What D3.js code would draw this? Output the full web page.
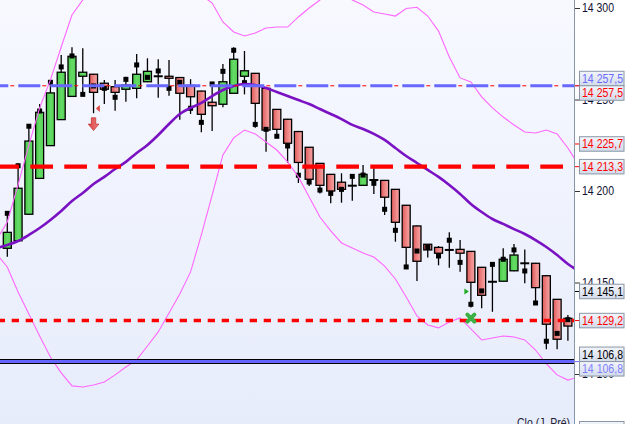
<!DOCTYPE html>
<html><head><meta charset="utf-8">
<script src="https://cdn.jsdelivr.net/npm/d3@7"></script>
<style>html,body{margin:0;padding:0;background:#fff;overflow:hidden}svg{display:block}
text{font-family:"Liberation Sans",Arial,Helvetica,sans-serif;}</style>
</head><body><svg id="c" width="626" height="424"></svg>
<script>
// ---- DATA ----
const opens  = [14168.7,14172.8,14187.3,14206.9,14224.8,14239.0,14251.7,14262.7,14263.8,14258.9,14257.0,14255.6,14256.1,14259.7,14262.7,14262.7,14262.0,14257.7,14254.6,14248.5,14247.4,14253.4,14262.7,14264.3,14256.1,14244.6,14239.2,14232.5,14223.9,14215.1,14209.1,14204.8,14202.9,14203.1,14206.0,14205.8,14200.9,14192.2,14180.9,14170.9,14169.2,14167.8,14168.1,14167.0,14158.3,14150.4,14150.7,14156.4,14160.5,14160.5,14153.7,14140.8,14130.4];
const highs  = [14188.7,14215.1,14236.6,14247.5,14260.7,14274.3,14278.5,14278.0,14264.0,14260.7,14260.7,14262.5,14274.9,14272.5,14272.0,14271.6,14262.2,14261.1,14254.8,14259.2,14269.4,14278.5,14276.5,14264.5,14256.3,14244.8,14239.4,14232.7,14224.1,14215.3,14209.3,14209.7,14208.0,14214.2,14212.4,14206.0,14201.1,14192.4,14181.1,14171.1,14169.9,14177.4,14173.2,14167.2,14158.5,14161.0,14168.7,14171.0,14168.1,14160.7,14153.9,14141.0,14132.2];
const lows   = [14164.1,14172.5,14187.0,14206.7,14224.6,14238.8,14251.5,14252.8,14242.5,14247.5,14243.9,14248.8,14250.7,14259.5,14251.0,14252.1,14239.0,14242.1,14232.1,14232.8,14245.7,14253.2,14252.8,14234.6,14221.5,14229.9,14215.3,14204.4,14202.7,14198.7,14193.3,14193.6,14194.7,14202.9,14198.4,14186.9,14172.3,14157.9,14150.8,14163.6,14159.4,14158.1,14155.9,14136.4,14135.9,14134.0,14150.5,14156.2,14149.6,14138.8,14113.5,14113.5,14118.2];
const closes = [14177.4,14201.5,14227.3,14243.0,14253.6,14264.9,14273.6,14264.9,14253.9,14255.6,14253.9,14257.9,14263.8,14265.4,14262.7,14261.6,14253.4,14251.5,14241.9,14246.6,14259.7,14272.0,14265.7,14247.9,14233.3,14233.7,14226.1,14215.6,14206.4,14203.1,14200.0,14200.9,14202.9,14209.1,14206.0,14196.6,14182.9,14169.2,14161.6,14167.8,14166.0,14167.8,14166.0,14150.1,14143.0,14150.4,14162.7,14165.0,14160.5,14147.2,14127.2,14119.0,14126.2];
const marks  = [14187.8,14213.8,14235.4,14243.7,14259.4,14267.8,14273.8,14252.8,14257.4,14256.1,14251.2,14261.0,14268.9,14262.1,14265.6,14256.1,14259.4,14245.2,14237.5,14258.5,14265.4,14276.9,14259.2,14236.4,14233.7,14229.9,14224.6,14208.6,14204.9,14200.5,14198.7,14200.9,14208.0,14208.7,14204.2,14190.0,14178.5,14158.5,14167.2,14169.2,14164.5,14173.1,14161.0,14138.1,14145.4,14159.9,14162.7,14167.8,14156.3,14138.8,14117.9,14122.2,14129.7];
// indicator values from bar -1 to bar 53
const maValues = [14168.9,14170.5,14172.7,14176.0,14179.8,14184.2,14189.1,14194.5,14198.9,14203.8,14207.7,14212.0,14215.9,14220.8,14225.1,14230.6,14236.6,14242.1,14245.4,14248.1,14251.9,14255.2,14257.4,14258.5,14257.9,14256.3,14254.1,14251.9,14249.7,14247.5,14244.8,14242.1,14239.3,14236.1,14233.9,14231.2,14227.9,14223.5,14219.1,14215.3,14211.5,14207.7,14203.3,14198.4,14192.9,14188.5,14184.7,14182.0,14179.2,14176.5,14173.2,14169.4,14165.0,14160.1,14156.3];
const upperBand = [14173.2,14183.1,14203.3,14225.1,14245.4,14260.7,14278.7,14296.2,14304.4,14312.6,14318.0,14320.8,14322.4,14323.5,14323.5,14322.4,14320.8,14318.0,14312.6,14307.1,14302.7,14292.4,14286.9,14284.7,14286.3,14289.1,14289.6,14289.6,14295.1,14300.0,14304.4,14308.7,14308.7,14304.4,14301.6,14297.8,14296.7,14295.6,14299.7,14300.4,14295.6,14287.4,14273.2,14261.8,14259.6,14251.4,14245.4,14240.4,14236.1,14232.2,14231.7,14233.3,14231.2,14223.5,14214.2];
const lowerBand = [14165.6,14158.5,14144.8,14132.8,14120.8,14109.3,14100.6,14093.5,14092.9,14094.0,14095.6,14099.5,14103.8,14107.7,14115.3,14123.0,14133.3,14143.7,14155.8,14176.0,14197.8,14219.7,14229.0,14233.3,14231.2,14226.8,14222.4,14215.9,14207.7,14196.7,14185.8,14178.2,14171.6,14168.9,14166.1,14163.9,14159.0,14151.9,14142.1,14131.7,14126.8,14125.2,14128.4,14130.6,14124.6,14118.6,14119.7,14120.8,14120.2,14118.6,14113.1,14105.5,14099.5,14096.7,14098.4];
const tickValues = [14100,14150,14200,14250,14300];
const levelValues = [14257.5,14257.5,14213.3,14129.2,14106.8];
const labelValues = [14257.5,14257.5,14225.7,14213.3,14145.1,14129.2,14106.8,14106.8];
const labelTexts  = ["14 257,5","14 257,5","14 225,7","14 213,3","14 145,1","14 129,2","14 106,8","14 106,8"];
const signalBars  = [8,8,43,43];
const signalPrices= [14240.0,14245.1,14145.1,14130.5];
const signalKinds = ["arrowDown","triLeft","triRight","cross"];
const footerText = "Clo (J. Pré)";

// ---- CHART ----
const W=626,H=424,PW=574;
const FONT='"Liberation Sans",Arial,Helvetica,sans-serif';
const svg=d3.select('#c');
const defs=svg.append('defs');
function lg(id,x2,y2,stops){const g=defs.append('linearGradient').attr('id',id).attr('x1',0).attr('y1',0).attr('x2',x2).attr('y2',y2);
  stops.forEach(s=>g.append('stop').attr('offset',s[0]).attr('stop-color',s[1]));}
lg('bg',0,1,[[0,'#f7f9ff'],[1,'#e7ecfb']]);
lg('gUp',1,0,[[0,'#45c845'],[0.5,'#66db66'],[1,'#55d055']]);
lg('gDn',1,0,[[0,'#e05a5a'],[0.6,'#f08c8c'],[1,'#f4a4a4']]);
lg('lbl',0,1,[[0,'#f3f5fb'],[1,'#d3dbea']]);
lg('arr',1,0,[[0,'#d84040'],[1,'#f08080']]);
defs.append('clipPath').attr('id','clip').append('rect').attr('x',0).attr('y',0).attr('width',PW).attr('height',H);

const x=d3.scaleLinear().domain([0,52]).range([7.3,567.9]);
const y=d3.scaleLinear().domain([14200,14300]).range([191,8]);

svg.append('rect').attr('width',W).attr('height',H).attr('fill','#fff');
svg.append('rect').attr('width',PW).attr('height',H).attr('fill','url(#bg)');

const plot=svg.append('g').attr('clip-path','url(#clip)');
const idx=d3.range(opens.length);

plot.append('g').selectAll('line').data(idx).join('line')
  .attr('x1',i=>x(i)).attr('x2',i=>x(i)).attr('y1',i=>y(highs[i])).attr('y2',i=>y(lows[i]))
  .attr('stroke','#000').attr('stroke-width',1.3);
plot.append('g').selectAll('rect').data(idx.filter(i=>opens[i]!==closes[i])).join('rect')
  .attr('x',i=>x(i)-4).attr('width',8)
  .attr('y',i=>y(Math.max(opens[i],closes[i])))
  .attr('height',i=>Math.abs(y(opens[i])-y(closes[i])))
  .attr('fill',i=>closes[i]>opens[i]?'url(#gUp)':'url(#gDn)')
  .attr('stroke','#000').attr('stroke-width',1.3);
plot.append('g').selectAll('line').data(idx.filter(i=>opens[i]===closes[i])).join('line')
  .attr('x1',i=>x(i)-4.5).attr('x2',i=>x(i)+4.5).attr('y1',i=>y(opens[i])).attr('y2',i=>y(opens[i]))
  .attr('stroke','#000').attr('stroke-width',2);
plot.append('g').selectAll('rect').data(idx).join('rect')
  .attr('x',i=>x(i)-2.5).attr('y',i=>y(marks[i])-2.5).attr('width',5).attr('height',5).attr('fill','#000');

const ind=d3.line().x((d,k)=>x(k-1)).y(d=>y(d));
plot.append('path').attr('d',ind(upperBand)).attr('fill','none').attr('stroke','#ff66ff').attr('stroke-width',1.1);
plot.append('path').attr('d',ind(lowerBand)).attr('fill','none').attr('stroke','#ff66ff').attr('stroke-width',1.1);
plot.append('path').attr('d',d3.line().x((d,k)=>x(k-1)).y(d=>y(d)).curve(d3.curveMonotoneX)(maValues))
  .attr('fill','none').attr('stroke','#7a12c4').attr('stroke-width',2.6);

function hline(v,color,w,dash,off){
  const l=plot.append('line').attr('x1',0).attr('x2',PW).attr('y1',y(v)).attr('y2',y(v))
    .attr('stroke',color).attr('stroke-width',w);
  if(dash) l.attr('stroke-dasharray',dash).attr('stroke-dashoffset',off);
  return l;
}
hline(levelValues[1],'#ff0000',1,'4,28',21.7);
hline(levelValues[0],'#6868ff',3,'22,10',13.7);
hline(levelValues[2],'#ff0000',4.3,'22.7,11.3',3.7);
hline(levelValues[3],'#ff0000',3.4,'7.3,6.7',2.3);
hline(levelValues[4],'#000',5);
hline(levelValues[4],'#6464ff',3);

const sg=plot.append('g');
signalKinds.forEach((k,j)=>{
  const cx=x(signalBars[j]), cy=y(signalPrices[j]);
  if(k==='arrowDown'){
    sg.append('path').attr('d',`M${cx-2.2},${cy} H${cx+2.2} V${cy+6.3} H${cx+5.3} L${cx},${cy+12.7} L${cx-5.3},${cy+6.3} H${cx-2.2} Z`)
      .attr('fill','url(#arr)').attr('stroke','#c83838').attr('stroke-width',0.8);
  } else if(k==='triLeft'){
    const bx=cx+6.3;
    sg.append('path').attr('d',`M${bx},${cy-3.5} L${bx},${cy+3.5} L${bx-4},${cy} Z`).attr('fill','#e04848');
  } else if(k==='triRight'){
    const bx=cx-6.5;
    sg.append('path').attr('d',`M${bx},${cy-3} L${bx},${cy+3} L${bx+4.5},${cy} Z`).attr('fill','#22aa22');
  } else if(k==='cross'){
    sg.append('path').attr('d',`M${cx-3.5},${cy-3.5} L${cx+3.5},${cy+3.5} M${cx+3.5},${cy-3.5} L${cx-3.5},${cy+3.5}`)
      .attr('stroke','#3cb043').attr('stroke-width',4).attr('stroke-linecap','round').attr('fill','none');
  }
});

function fit(sel,maxW){sel.each(function(){const w=this.getComputedTextLength();if(w>maxW){d3.select(this).attr('textLength',maxW).attr('lengthAdjust','spacingAndGlyphs');}});}

const ft=svg.append('text').attr('x',517).attr('y',427).text(footerText)
  .style('font-family',FONT).attr('font-size',12).attr('fill','#202030');
fit(ft,53);

svg.append('line').attr('x1',574.5).attr('x2',574.5).attr('y1',0).attr('y2',H).attr('stroke','#8796a8').attr('stroke-width',1);
const ax=svg.append('g').attr('transform','translate(575,0)')
  .call(d3.axisRight(y).tickValues(tickValues).tickSize(5).tickSizeOuter(0).tickPadding(2)
    .tickFormat(d=>d3.format(',')(d).replace(',',' ')));
ax.select('.domain').remove();
ax.selectAll('line').attr('stroke','#333');
ax.selectAll('text').style('font-family',FONT).attr('font-size',12).attr('fill','#101030');
fit(ax.selectAll('text'),32);

const labelColors=['#6a6aff','#ff0000','#ff0000','#ff0000','#000000','#ff0000','#000000','#8080ff'];
const BH=14.5;
const pos=labelValues.map(v=>y(v));
for(let a=0;a<pos.length;a++)for(let b=a+1;b<pos.length;b++){
  if(Math.abs(pos[a]-pos[b])<BH){const m=(pos[a]+pos[b])/2; pos[a]=m-BH/2; pos[b]=m+BH/2;}
}
const lab=svg.append('g');
labelValues.forEach((v,j)=>{
  lab.append('line').attr('x1',575).attr('x2',580).attr('y1',y(v)).attr('y2',y(v)).attr('stroke',labelColors[j]).attr('stroke-width',1);
  lab.append('rect').attr('x',579.5).attr('y',pos[j]-BH/2).attr('width',44.5).attr('height',BH)
    .attr('fill','url(#lbl)').attr('stroke','#8a96a6').attr('stroke-width',1);
  const t=lab.append('text').attr('x',582).attr('y',pos[j]+4.3).text(labelTexts[j])
    .style('font-family',FONT).attr('font-size',12).attr('fill',labelColors[j]);
  fit(t,41);
});
lab.append('rect').attr('x',579.5).attr('y',421.5).attr('width',44.5).attr('height',14).attr('fill','url(#lbl)').attr('stroke','#8a96a6');
</script></body></html>
